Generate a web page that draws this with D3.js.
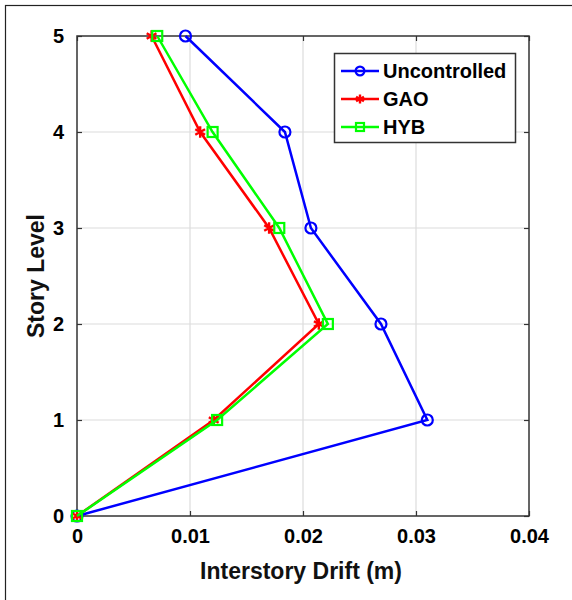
<!DOCTYPE html>
<html lang="en">
<head>
  <meta charset="UTF-8">
  <title>Interstory Drift</title>
  <script src="https://d3js.org/d3.v7.min.js"></script>
  <style>
    body {
      margin: 0;
      background: #fff;
      font-family: 'Liberation Sans', Arial, sans-serif;
    }
  </style>
</head>
<body>
  <svg width="572" height="600"></svg>
  <script>
    // story levels and drift values (m)
    const levels = [0, 1, 2, 3, 4, 5];
    const uncontrolled = [0, 0.0310, 0.0269, 0.0207, 0.0184, 0.0096];
    const gao = [0, 0.0121, 0.0214, 0.0170, 0.0109, 0.0066];
    const hyb = [0, 0.0124, 0.0222, 0.0179, 0.0120, 0.0071];
    const xTicks = [0, 0.01, 0.02, 0.03, 0.04];
    const xTickLabels = ["0", "0.01", "0.02", "0.03", "0.04"];
    const yTicks = [0, 1, 2, 3, 4, 5];

    const series = [
      {name: "Uncontrolled", values: uncontrolled, color: "#0000ff", marker: "circle"},
      {name: "GAO", values: gao, color: "#ff0000", marker: "star"},
      {name: "HYB", values: hyb, color: "#00ff00", marker: "square"}
    ];

    const svg = d3.select("svg");

    // outer frame
    svg.append("rect")
      .attr("x", 5.5).attr("y", 5.5)
      .attr("width", 600).attr("height", 620)
      .attr("fill", "none")
      .attr("stroke", "#222")
      .attr("stroke-width", 1.2);

    const margin = {top: 36, right: 43, bottom: 84, left: 77};
    const width = 572 - margin.left - margin.right;
    const height = 600 - margin.top - margin.bottom;

    const g = svg.append("g")
      .attr("transform", "translate(" + margin.left + "," + margin.top + ")");

    const x = d3.scaleLinear().domain([0, 0.04]).range([0, width]);
    const y = d3.scaleLinear().domain([0, 5]).range([height, 0]);

    // grid
    g.append("g").selectAll("line")
      .data(xTicks.slice(1, -1))
      .enter().append("line")
      .attr("x1", d => x(d)).attr("x2", d => x(d))
      .attr("y1", 0).attr("y2", height)
      .attr("stroke", "#dcdcdc").attr("stroke-width", 1.2);
    g.append("g").selectAll("line")
      .data(yTicks.slice(1, -1))
      .enter().append("line")
      .attr("y1", d => y(d)).attr("y2", d => y(d))
      .attr("x1", 0).attr("x2", width)
      .attr("stroke", "#dcdcdc").attr("stroke-width", 1.2);

    // axes (MATLAB style, inward ticks)
    const axisStyle = sel => {
      sel.select(".domain").remove();
      sel.selectAll(".tick line").attr("stroke", "#333").attr("stroke-width", 1.2);
      sel.selectAll(".tick text")
        .style("font-family", "'Liberation Sans', Arial, sans-serif")
        .style("font-weight", "bold")
        .style("font-size", "20px")
        .attr("fill", "#000");
    };

    g.append("g")
      .attr("transform", "translate(0," + height + ")")
      .call(d3.axisBottom(x).tickValues(xTicks).tickFormat((d, i) => xTickLabels[i])
        .tickSizeInner(-5).tickPadding(13))
      .call(axisStyle);
    g.append("g")
      .call(d3.axisTop(x).tickValues(xTicks).tickFormat("").tickSizeInner(-5))
      .call(axisStyle);
    g.append("g")
      .call(d3.axisLeft(y).tickValues(yTicks).tickFormat(d3.format("d"))
        .tickSizeInner(-5).tickPadding(13))
      .call(axisStyle);
    g.append("g")
      .attr("transform", "translate(" + width + ",0)")
      .call(d3.axisRight(y).tickValues(yTicks).tickFormat("").tickSizeInner(-5))
      .call(axisStyle);

    g.append("rect")
      .attr("width", width).attr("height", height)
      .attr("fill", "none")
      .attr("stroke", "#333").attr("stroke-width", 1.5);

    // lines
    const line = d3.line()
      .x(d => x(d[0]))
      .y(d => y(d[1]));

    function drawMarker(sel, type, color, size) {
      if (type === "circle") {
        sel.append("circle").attr("r", size * 0.55)
          .attr("fill", "none").attr("stroke", color).attr("stroke-width", 2.2);
      } else if (type === "square") {
        sel.append("rect")
          .attr("x", -size * 0.5).attr("y", -size * 0.5)
          .attr("width", size).attr("height", size)
          .attr("fill", "none").attr("stroke", color).attr("stroke-width", 2.2);
      } else {
        sel.append("path")
          .attr("d", d3.symbol().type(d3.symbolAsterisk).size(size * size * 0.9)())
          .attr("fill", "none").attr("stroke", color).attr("stroke-width", 2.4);
      }
    }

    series.forEach(s => {
      const pts = s.values.map((v, i) => [v, levels[i]]);
      g.append("path")
        .datum(pts)
        .attr("d", line)
        .attr("fill", "none")
        .attr("stroke", s.color)
        .attr("stroke-width", 2.5);
      g.append("g").selectAll("g")
        .data(pts)
        .enter().append("g")
        .attr("transform", d => "translate(" + x(d[0]) + "," + y(d[1]) + ")")
        .each(function() { drawMarker(d3.select(this), s.marker, s.color, 10); });
    });

    // axis titles
    svg.append("text")
      .attr("x", margin.left + width / 2 - 2)
      .attr("y", 579)
      .attr("text-anchor", "middle")
      .style("font-weight", "bold")
      .style("font-size", "23px")
      .attr("fill", "#111")
      .text("Interstory Drift (m)");

    svg.append("text")
      .attr("transform", "translate(44," + (margin.top + height / 2) + ") rotate(-90)")
      .attr("text-anchor", "middle")
      .style("font-weight", "bold")
      .style("font-size", "23px")
      .attr("fill", "#111")
      .text("Story Level");

    // legend
    const legend = svg.append("g");
    legend.append("rect")
      .attr("x", 334.5).attr("y", 53.5)
      .attr("width", 181).attr("height", 89)
      .attr("fill", "#fff")
      .attr("stroke", "#333").attr("stroke-width", 1.5);
    const ly = [71, 99, 127];
    series.forEach((s, i) => {
      const row = legend.append("g").attr("transform", "translate(0," + ly[i] + ")");
      row.append("line")
        .attr("x1", 341).attr("x2", 379)
        .attr("stroke", s.color).attr("stroke-width", 2.5);
      const m = row.append("g").attr("transform", "translate(360,0)");
      drawMarker(m, s.marker, s.color, 8);
      row.append("text")
        .attr("x", 383).attr("y", 7)
        .style("font-weight", "bold")
        .style("font-size", "20px")
        .attr("fill", "#000")
        .text(s.name);
    });
  </script>
</body>
</html>
